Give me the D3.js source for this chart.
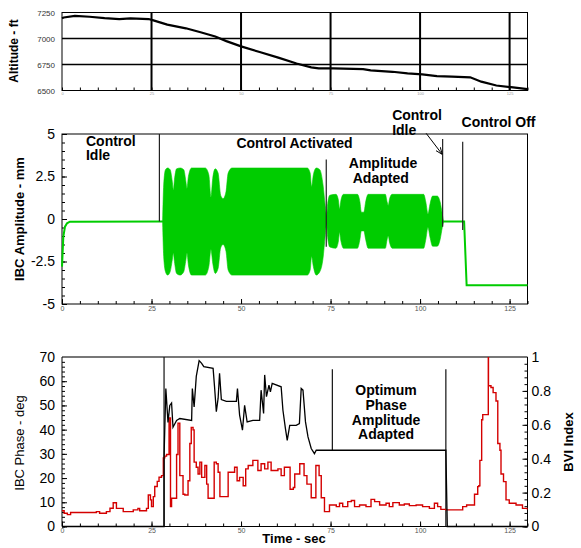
<!DOCTYPE html>
<html>
<head>
<meta charset="utf-8">
<script src="https://cdn.jsdelivr.net/npm/d3@7"></script>
<style>
body { margin: 0; background: #fff; }
svg { font-family: "Liberation Sans", Arial, sans-serif; }
</style>
</head>
<body>
<div id="chart"></div>
<script>
// ---- data ----
var altT = [0, 0.5, 3.6, 7.7, 11.9, 16, 19.1, 24.2, 25.3, 29.4, 34.6, 38.7, 42.8, 45.9, 50, 55.2, 60.4, 65.5, 69.6, 71.7, 75.8, 84.1, 86.2, 92.3, 96.5, 100.6, 104.7, 108.9, 114, 117.1, 121.3, 125.4, 130];
var altV = [7195, 7202, 7218, 7209, 7196, 7187, 7193, 7187, 7177, 7133, 7098, 7060, 7019, 6975, 6924, 6870, 6816, 6759, 6722, 6712, 6712, 6706, 6693, 6680, 6665, 6655, 6639, 6633, 6627, 6585, 6548, 6532, 6513];

var ampT = [0, 0.37, 0.84, 1.4, 2.2, 28.1, 106.5, 112.3, 113.0, 130];
var ampV = [-2.8, -1.04, -0.45, -0.25, -0.16, -0.15, -0.15, -0.15, -3.9, -3.9];

var envT  = [28.1, 28.4, 28.9, 29.5, 30.2, 30.8, 31.1, 31.4, 32.0, 33.0, 34.0, 34.6, 34.9, 35.3, 36.2, 40.0, 41.0, 41.6, 42.1, 42.8, 43.6, 44.3, 45.0, 45.8, 46.4, 47.5, 68.5, 69.3, 69.7, 70.2, 71.0, 72.0, 72.9, 73.5, 73.9,
             74.2, 74.8, 76.5, 77.2, 77.5, 77.9, 78.6, 82.5, 83.2, 83.6, 84.3, 84.8, 85.5, 90.3, 90.8, 91.1, 91.5, 92.2, 101.0, 101.6, 102.2, 102.8, 103.5, 104.8, 105.6, 106.2, 106.5];
var envHi = [-0.1, 2.0, 2.9, 3.0, 2.9, 2.2, 1.7, 2.3, 2.95, 3.0, 2.9, 2.2, 1.8, 2.5, 3.0, 3.0, 2.6, 1.3, 2.4, 2.95, 2.7, 1.4, 1.2, 1.6, 2.7, 3.0, 3.0, 2.7, 1.9, 2.6, 3.0, 2.9, 2.0, 0.8, 0.2,
             0.9, 1.4, 1.45, 1.1, 0.6, 1.1, 1.45, 1.45, 1.0, 0.4, 0.4, 1.0, 1.45, 1.45, 1.0, 0.8, 1.2, 1.45, 1.45, 1.0, 0.3, 0.9, 1.35, 1.35, 1.0, 0.3, -0.1];
var envLo = [-0.2, -2.2, -3.1, -3.3, -3.1, -2.4, -2.0, -2.5, -3.2, -3.3, -3.1, -2.4, -2.0, -2.7, -3.3, -3.3, -2.8, -1.8, -2.6, -3.2, -2.9, -1.7, -1.5, -1.9, -3.0, -3.3, -3.3, -3.0, -2.2, -2.8, -3.3, -3.1, -2.3, -1.0, -0.3,
             -1.1, -1.65, -1.72, -1.3, -0.8, -1.3, -1.72, -1.72, -1.2, -0.7, -0.7, -1.2, -1.72, -1.72, -1.2, -1.0, -1.4, -1.72, -1.72, -1.2, -0.5, -1.1, -1.6, -1.6, -1.2, -0.5, -0.2];

var phaseT = [0, 28.5, 28.5, 29.0, 29.6, 30.1, 30.6, 31.0, 32.0, 32.9, 36.2, 36.4, 36.9, 37.5, 38.3, 39.0, 39.6, 42.2, 42.6, 43.1, 43.6, 44.0, 44.5, 45.9, 48.7, 49.0, 49.6, 50.4, 51.0, 51.7, 53.3, 55.2, 55.6, 56.3, 56.6, 57.1, 57.8, 58.2, 58.7, 61.2, 61.7, 62.4, 62.9, 63.6, 65.4, 66.3, 66.8, 67.3, 68.0, 68.7, 69.6, 70.5, 71.0, 72.9, 107.2, 107.6, 130];
var phaseV = [0, 0, 28.7, 57, 43, 50, 51, 41, 43.8, 44.6, 43.8, 57, 49.4, 62, 68.5, 67.4, 66, 65.3, 57.7, 47.4, 53, 63.3, 52.4, 51.7, 51.7, 57, 46, 39.8, 50, 43.2, 43.8, 43.8, 56.3, 46.7, 62.6, 53.6, 58.4, 55.6, 59.1, 57.7, 48, 40.4, 35.6, 41.8, 41.8, 42.5, 57, 56.3, 43.2, 37, 32.2, 30.1, 31.5, 31.5, 31.5, 0, 0];

var bviT = [0, 0.6, 1.5, 2.4, 9.6, 10.5, 12.4, 13.4, 14.3, 15.2, 17.1, 19.9, 21.2, 21.7, 23.6, 24.1, 24.7, 25.0, 25.5, 25.9, 26.6, 27.1, 27.8, 28.3, 28.7, 29.2, 29.9, 30.3, 30.6, 31.5, 32.0, 32.4, 32.9, 33.8, 34.3, 35.2, 35.7, 36.1, 36.6, 36.9, 37.5, 38.0, 38.5, 39.0, 39.9, 40.4, 40.8, 42.2, 42.5, 43.1, 43.6, 44.1, 45.9, 46.4, 47.8, 48.2, 48.9, 49.6, 50.6, 51.3, 52.0, 53.3, 54.7, 55.6, 56.6, 57.5, 58.4, 60.3, 61.2, 62.1, 63.3, 63.7, 64.6, 65.0, 66.4, 67.6, 68.4, 69.6, 70.9, 71.8, 72.4, 73.3,
            74.7, 76.6, 77.5, 78.4, 79.8, 80.8, 81.7, 83.1, 84.9, 86.3, 87.3, 88.7, 90.5, 91.4, 92.4, 94.2, 95.6, 97.0, 98.9, 100.7, 102.6, 104.0, 104.9, 105.8, 107.2, 110.0, 111.9, 113.0, 114.5, 115.2, 116.1, 116.4, 116.7, 117.2, 117.5, 119.05, 119.1, 119.8, 120.4, 121.2, 121.7, 122.3, 122.6, 123.3, 124.0, 124.9, 126.8, 128.6, 130];
var bviV = [0.093, 0.078, 0.07, 0.083, 0.088, 0.078, 0.088, 0.108, 0.14, 0.107, 0.088, 0.098, 0.107, 0.093, 0.107, 0.186, 0.157, 0.117, 0.176, 0.236, 0.266, 0.291, 0.30, 0.405, 0.415, 0.425, 0.64, 0.117, 0.167, 0.167, 0.425, 0.61, 0.30, 0.19, 0.186, 0.27, 0.49, 0.585, 0.57, 0.38, 0.35, 0.31, 0.38, 0.29, 0.36, 0.25, 0.167, 0.167, 0.38, 0.37, 0.32, 0.176, 0.176, 0.32, 0.32, 0.35, 0.27, 0.29, 0.24, 0.34, 0.36, 0.39, 0.33, 0.37, 0.34, 0.38, 0.33, 0.34, 0.30, 0.35, 0.35, 0.22, 0.23, 0.31, 0.37, 0.30, 0.25, 0.17, 0.36, 0.30, 0.17, 0.088,
            0.127, 0.117, 0.137, 0.117, 0.147, 0.153, 0.117, 0.127, 0.117, 0.16, 0.147, 0.127, 0.137, 0.117, 0.141, 0.127, 0.133, 0.123, 0.127, 0.117, 0.107, 0.137, 0.117, 0.101, 0.098, 0.098, 0.117, 0.127, 0.127, 0.19, 0.235, 0.24, 0.39, 0.63, 0.66, 1.2, 0.83, 0.82, 0.79, 0.74, 0.49, 0.45, 0.31, 0.265, 0.157, 0.137, 0.127, 0.107, 0.098];

var midDivT = [27.2, 73.8, 106.3, 111.9];
var midDivTop = [5, 3.5, 4.7, 4.55];
var midDivBot = [-0.15, -1.63, -0.45, -0.65];

var botDivT = [28.5, 75.5, 107.2];
var botDivTop = [70, 64.9, 64.9];
var botDivBot = [0, 31.5, 0];

var xTicks = [0, 25, 50, 75, 100, 125];
var altTicks = [6500, 6750, 7000, 7250];
var ampTicks = [-5, -2.5, 0, 2.5, 5];
var phaseTicks = [0, 10, 20, 30, 40, 50, 60, 70];
var bviTicks = [0, 0.2, 0.4, 0.6, 0.8, 1];

// ---- layout ----
var W = 581, H = 548;
var L = 62, R = 527.5;
var svg = d3.select("#chart").append("svg").attr("width", W).attr("height", H);

var x = d3.scaleLinear().domain([0, 130]).range([L, R]);
var yAlt = d3.scaleLinear().domain([6500, 7250]).range([90.5, 12.5]);
var yAmp = d3.scaleLinear().domain([-5, 5]).range([304, 134]);
var yPh = d3.scaleLinear().domain([0, 70]).range([526.5, 357]);
var yBvi = d3.scaleLinear().domain([0, 1]).range([526.5, 357]);

function pts(a, b) { return a.map(function(t, i) { return [t, b[i]]; }); }

function styleAxis(g, size, color) {
  g.selectAll("text").attr("font-size", size).attr("fill", color).attr("font-family", "Liberation Sans, Arial, sans-serif");
  g.selectAll("line").attr("stroke", "#000");
  g.select(".domain").remove();
}

function minorX(bottom, len) {
  svg.append("g").attr("transform", "translate(0," + bottom + ")")
    .call(d3.axisBottom(x).tickValues(d3.range(0, 131, 5)).tickSize(-len).tickFormat(""))
    .call(function(g) { g.select(".domain").remove(); g.selectAll("line").attr("stroke", "#000"); });
}

// ================= top panel: altitude =================
svg.append("g").selectAll("line").data([25, 50, 75, 100, 125]).enter().append("line")
  .attr("x1", function(d) { return x(d); }).attr("x2", function(d) { return x(d); })
  .attr("y1", yAlt(7250)).attr("y2", yAlt(6500))
  .attr("stroke", "#000").attr("stroke-width", 2);
svg.append("g").selectAll("line").data([7000, 6750]).enter().append("line")
  .attr("x1", L).attr("x2", R)
  .attr("y1", function(d) { return yAlt(d); }).attr("y2", function(d) { return yAlt(d); })
  .attr("stroke", "#000").attr("stroke-width", 1.5);
svg.append("rect").attr("x", L).attr("y", yAlt(7250)).attr("width", R - L).attr("height", yAlt(6500) - yAlt(7250))
  .attr("fill", "none").attr("stroke", "#000").attr("stroke-width", 1);
minorX(90.5, 3);
svg.append("g").attr("transform", "translate(0,90.5)")
  .call(d3.axisBottom(x).tickValues(xTicks).tickSize(0).tickPadding(2))
  .call(function(g) { styleAxis(g, 4, "#999"); });
svg.append("g").attr("transform", "translate(" + L + ",0)")
  .call(d3.axisLeft(yAlt).tickValues(altTicks).tickSize(0).tickPadding(7).tickFormat(d3.format("d")))
  .call(function(g) { styleAxis(g, 8, "#333"); });
svg.append("path").datum(pts(altT, altV))
  .attr("d", d3.line().x(function(d) { return x(d[0]); }).y(function(d) { return yAlt(d[1]); }))
  .attr("fill", "none").attr("stroke", "#000").attr("stroke-width", 2.2);
svg.append("text").attr("transform", "translate(18,51) rotate(-90)").attr("text-anchor", "middle")
  .attr("font-size", 12).attr("font-weight", "bold").text("Altitude - ft");

// ================= middle panel: IBC amplitude =================
svg.append("rect").attr("x", L).attr("y", yAmp(5)).attr("width", R - L).attr("height", yAmp(-5) - yAmp(5))
  .attr("fill", "none").attr("stroke", "#000").attr("stroke-width", 1);
minorX(304, 3);
svg.append("g").attr("transform", "translate(0,304)")
  .call(d3.axisBottom(x).tickValues(xTicks).tickSize(-5).tickPadding(2))
  .call(function(g) { styleAxis(g, 7, "#555"); });
svg.append("g").attr("transform", "translate(" + L + ",0)")
  .call(d3.axisLeft(yAmp).tickValues(d3.range(-5, 5.01, 0.5)).tickSize(-3).tickFormat(""))
  .call(function(g) { styleAxis(g, 1, "#000"); });
svg.append("g").attr("transform", "translate(" + L + ",0)")
  .call(d3.axisLeft(yAmp).tickValues(ampTicks).tickSize(-5).tickPadding(7).tickFormat(function(d) { return d; }))
  .call(function(g) { styleAxis(g, 14, "#000"); });

svg.append("path").datum(pts(ampT, ampV))
  .attr("d", d3.line().x(function(d) { return x(d[0]); }).y(function(d) { return yAmp(d[1]); }))
  .attr("fill", "none").attr("stroke", "#00cc00").attr("stroke-width", 2);
var env = envT.map(function(t, i) { return { t: t, hi: envHi[i], lo: envLo[i] }; });
svg.append("path").datum(env)
  .attr("d", d3.area().curve(d3.curveMonotoneX)
    .x(function(d) { return x(d.t); }).y0(function(d) { return yAmp(d.lo); }).y1(function(d) { return yAmp(d.hi); }))
  .attr("fill", "#00cc00").attr("stroke", "#00cc00").attr("stroke-width", 0.6);

svg.append("g").selectAll("line").data(midDivT).enter().append("line")
  .attr("x1", function(d) { return x(d); }).attr("x2", function(d) { return x(d); })
  .attr("y1", function(d, i) { return yAmp(midDivTop[i]); }).attr("y2", function(d, i) { return yAmp(midDivBot[i]); })
  .attr("stroke", "#222").attr("stroke-width", 1.2);

svg.append("defs").append("marker").attr("id", "ah").attr("viewBox", "0 0 10 10")
  .attr("refX", 10).attr("refY", 5).attr("markerWidth", 7).attr("markerHeight", 7).attr("orient", "auto")
  .append("path").attr("d", "M0,1 L10,5 L0,9").attr("fill", "none").attr("stroke", "#000").attr("stroke-width", 1.3);
svg.append("line").attr("x1", x(101.7)).attr("y1", yAmp(5.04)).attr("x2", x(106.2)).attr("y2", yAmp(3.8))
  .attr("stroke", "#000").attr("stroke-width", 1).attr("marker-end", "url(#ah)");

var midNotes = [
  ["Control", 6.7, 4.3], ["Idle", 6.7, 3.45], ["Control Activated", 48.7, 4.16],
  ["Amplitude", 80.1, 2.98], ["Adapted", 81.2, 2.1],
  ["Control", 92.2, 5.82], ["Idle", 92.2, 4.97], ["Control Off", 111.6, 5.43]
];
svg.append("g").selectAll("text").data(midNotes).enter().append("text")
  .attr("x", function(d) { return x(d[1]); }).attr("y", function(d) { return yAmp(d[2]); })
  .attr("font-size", 14).attr("font-weight", "bold").text(function(d) { return d[0]; });
svg.append("text").attr("transform", "translate(24,219) rotate(-90)").attr("text-anchor", "middle")
  .attr("font-size", 13).attr("font-weight", "bold").text("IBC Amplitude - mm");

// ================= bottom panel: phase & BVI =================
svg.append("defs").append("clipPath").attr("id", "clipB").append("rect")
  .attr("x", L).attr("y", 357).attr("width", R - L).attr("height", 526.5 - 357);
minorX(526.5, 3);
svg.append("g").attr("transform", "translate(0,526.5)")
  .call(d3.axisBottom(x).tickValues(xTicks).tickSize(-5).tickPadding(2))
  .call(function(g) { styleAxis(g, 7, "#555"); });
svg.append("g").attr("transform", "translate(" + L + ",0)")
  .call(d3.axisLeft(yPh).tickValues(d3.range(0, 71, 2)).tickSize(-3).tickFormat(""))
  .call(function(g) { styleAxis(g, 1, "#000"); });
svg.append("g").attr("transform", "translate(" + L + ",0)")
  .call(d3.axisLeft(yPh).tickValues(phaseTicks).tickSize(-5).tickPadding(7))
  .call(function(g) { styleAxis(g, 14, "#000"); });
svg.append("g").attr("transform", "translate(" + R + ",0)")
  .call(d3.axisRight(yBvi).tickValues(d3.range(0, 1.001, 0.04)).tickSize(-3).tickFormat(""))
  .call(function(g) { styleAxis(g, 1, "#000"); });
svg.append("g").attr("transform", "translate(" + R + ",0)")
  .call(d3.axisRight(yBvi).tickValues(bviTicks).tickSize(-5).tickPadding(4).tickFormat(function(d) { return d; }))
  .call(function(g) { styleAxis(g, 14, "#000"); });

svg.append("line").attr("x1", L).attr("x2", R).attr("y1", 357).attr("y2", 357).attr("stroke", "#777").attr("stroke-width", 2);
svg.append("line").attr("x1", L).attr("x2", L).attr("y1", 357).attr("y2", 526.5).attr("stroke", "#000").attr("stroke-width", 1);
svg.append("line").attr("x1", R).attr("x2", R).attr("y1", 357).attr("y2", 526.5).attr("stroke", "#000").attr("stroke-width", 1);
svg.append("line").attr("x1", L).attr("x2", R).attr("y1", 526.5).attr("y2", 526.5).attr("stroke", "#000").attr("stroke-width", 1);

svg.append("g").selectAll("line").data(botDivT).enter().append("line")
  .attr("x1", function(d) { return x(d); }).attr("x2", function(d) { return x(d); })
  .attr("y1", function(d, i) { return yPh(botDivTop[i]); }).attr("y2", function(d, i) { return yPh(botDivBot[i]); })
  .attr("stroke", "#111").attr("stroke-width", 1.2);

svg.append("path").datum(pts(bviT, bviV)).attr("clip-path", "url(#clipB)")
  .attr("d", d3.line().curve(d3.curveStepAfter).x(function(d) { return x(d[0]); }).y(function(d) { return yBvi(d[1]); }))
  .attr("fill", "none").attr("stroke", "#d40000").attr("stroke-width", 1.4);
svg.append("path").datum(pts(phaseT, phaseV))
  .attr("d", d3.line().x(function(d) { return x(d[0]); }).y(function(d) { return yPh(d[1]); }))
  .attr("fill", "none").attr("stroke", "#000").attr("stroke-width", 1.3);

var botNotes = [["Optimum", 54.5], ["Phase", 48.3], ["Amplitude", 42.1], ["Adapted", 36.1]];
svg.append("g").selectAll("text").data(botNotes).enter().append("text")
  .attr("x", x(90.5)).attr("y", function(d) { return yPh(d[1]); }).attr("text-anchor", "middle")
  .attr("font-size", 14).attr("font-weight", "bold").text(function(d) { return d[0]; });

svg.append("text").attr("transform", "translate(24,443) rotate(-90)").attr("text-anchor", "middle")
  .attr("font-size", 13).text("IBC Phase - deg");
svg.append("text").attr("transform", "translate(573,442) rotate(-90)").attr("text-anchor", "middle")
  .attr("font-size", 13).attr("font-weight", "bold").text("BVI Index");
svg.append("text").attr("x", 294).attr("y", 543).attr("text-anchor", "middle")
  .attr("font-size", 13).attr("font-weight", "bold").text("Time - sec");
</script>
</body>
</html>
